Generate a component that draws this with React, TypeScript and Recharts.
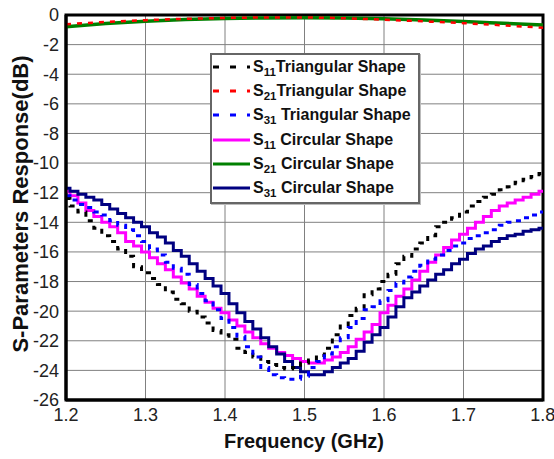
import React from 'react'
import {
  LineChart,
  Line,
  XAxis,
  YAxis,
  CartesianGrid,
  ReferenceArea,
  Legend,
} from 'recharts'

const FONT = '"Liberation Sans", Arial, Helvetica, sans-serif'

// frequency grid of the simulated curves (GHz)
const freqs = [
  1.2, 1.21, 1.22, 1.23, 1.24, 1.25, 1.26, 1.27, 1.28, 1.29,
  1.3, 1.31, 1.32, 1.33, 1.34, 1.35, 1.36, 1.37, 1.38, 1.39,
  1.4, 1.41, 1.42, 1.43, 1.44, 1.45, 1.46, 1.47, 1.48, 1.49,
  1.5, 1.51, 1.52, 1.53, 1.54, 1.55, 1.56, 1.57, 1.58, 1.59,
  1.6, 1.61, 1.62, 1.63, 1.64, 1.65, 1.66, 1.67, 1.68, 1.69,
  1.7, 1.71, 1.72, 1.73, 1.74, 1.75, 1.76, 1.77, 1.78, 1.79, 1.8,
]

const s11Tri = [
  -12.4, -12.9, -13.3, -13.9, -14.4, -14.9, -15.3, -15.8, -16.3, -17.0,
  -17.4, -17.8, -18.2, -18.7, -19.2, -19.5, -20.0, -20.4, -20.8, -21.3,
  -21.6, -21.9, -22.5, -22.8, -23.1, -23.4, -23.6, -23.8, -23.9, -23.8,
  -23.5, -23.3, -23.0, -22.5, -21.6, -21.0, -20.3, -19.8, -18.9, -18.5,
  -18.0, -17.5, -16.8, -16.3, -15.8, -15.4, -14.9, -14.3, -14.0, -13.7,
  -13.3, -12.9, -12.6, -12.3, -12.1, -11.8, -11.6, -11.3, -11.1, -10.9, -10.7,
]

const s31Tri = [
  -12.2, -12.5, -12.8, -13.0, -13.3, -13.5, -13.9, -14.2, -14.5, -14.9,
  -15.3, -15.8, -16.2, -16.7, -17.1, -17.5, -18.2, -18.8, -19.3, -19.9,
  -20.5, -21.1, -21.7, -22.4, -23.1, -23.8, -24.3, -24.5, -24.6, -24.6,
  -24.4, -23.8, -23.4, -22.9, -22.4, -21.8, -21.1, -20.5, -19.9, -19.7,
  -19.3, -18.6, -18.1, -17.7, -17.3, -16.9, -16.5, -16.2, -15.9, -15.6,
  -15.4, -15.1, -14.9, -14.7, -14.5, -14.2, -14.0, -13.9, -13.7, -13.5, -13.3,
]

const s11Circ = [
  -11.9, -12.2, -12.7, -13.2, -13.6, -14.0, -14.3, -14.7, -15.3, -15.6,
  -16.0, -16.4, -16.8, -17.2, -17.7, -18.1, -18.5, -19.0, -19.4, -19.8,
  -20.1, -20.6, -21.0, -21.4, -21.8, -22.2, -22.5, -22.8, -23.0, -23.2,
  -23.4, -23.5, -23.5, -23.3, -23.1, -22.8, -22.4, -21.9, -21.4, -20.9,
  -20.1, -19.6, -19.0, -18.5, -17.9, -17.3, -16.7, -16.2, -15.7, -15.2,
  -14.8, -14.4, -14.0, -13.6, -13.2, -12.9, -12.7, -12.5, -12.3, -12.1, -11.9,
]

const s31Circ = [
  -11.7, -11.9, -12.1, -12.3, -12.5, -12.8, -13.1, -13.4, -13.7, -14.0,
  -14.3, -14.7, -15.0, -15.4, -15.9, -16.3, -16.8, -17.3, -17.8, -18.3,
  -18.8, -19.5, -20.1, -20.7, -21.2, -21.8, -22.4, -22.9, -23.4, -23.8,
  -24.1, -24.3, -24.3, -24.1, -23.8, -23.5, -23.2, -22.7, -22.1, -21.6,
  -21.1, -20.4, -19.7, -19.1, -18.7, -18.3, -17.9, -17.5, -17.2, -16.8,
  -16.5, -16.1, -15.8, -15.6, -15.3, -15.1, -14.9, -14.8, -14.6, -14.5, -14.4,
]

// transmission curves are smooth, read every 0.05 GHz
const freqsCoarse = [1.2, 1.25, 1.3, 1.35, 1.4, 1.45, 1.5, 1.55, 1.6, 1.65, 1.7, 1.75, 1.8]
const s21Tri = [-0.62, -0.47, -0.35, -0.26, -0.2, -0.17, -0.17, -0.22, -0.32, -0.43, -0.55, -0.7, -0.86]
const s21Circ = [-0.79, -0.58, -0.42, -0.31, -0.24, -0.2, -0.18, -0.2, -0.26, -0.34, -0.44, -0.56, -0.68]

const xTicks = [1.2, 1.3, 1.4, 1.5, 1.6, 1.7, 1.8]
const yTicks = [0, -2, -4, -6, -8, -10, -12, -14, -16, -18, -20, -22, -24, -26]

const toPoints = (xs: number[], ys: number[]) => xs.map((x, i) => ({ x, y: ys[i] }))

const legendItems = [
  { sub: '11', text: 'Triangular Shape', color: '#000000', dashed: true },
  { sub: '21', text: 'Triangular Shape', color: '#ff0000', dashed: true },
  { sub: '31', text: ' Triangular Shape', color: '#0000ff', dashed: true },
  { sub: '11', text: ' Circular Shape', color: '#ff00ff', dashed: false },
  { sub: '21', text: ' Circular Shape', color: '#008000', dashed: false },
  { sub: '31', text: ' Circular Shape', color: '#000080', dashed: false },
]

function LegendBox() {
  return (
    <div
      style={{
        width: 206,
        height: 147,
        border: '2px solid #666',
        background: '#fff',
        boxShadow: '1px 1px 0 #bbb',
        boxSizing: 'content-box',
      }}
    >
      {legendItems.map((item, i) => (
        <div key={i} style={{ display: 'flex', alignItems: 'center', height: 24.2 }}>
          <svg width={40} height={10} style={{ flexShrink: 0 }}>
            <line
              x1={1}
              y1={5}
              x2={38}
              y2={5}
              stroke={item.color}
              strokeWidth={3}
              strokeDasharray={item.dashed ? '6 11' : undefined}
            />
          </svg>
          <span
            style={{
              fontFamily: FONT,
              fontWeight: 'bold',
              fontSize: 16,
              color: '#111',
              whiteSpace: 'pre',
              marginLeft: 1,
            }}
          >
            S
            <span style={{ fontSize: 11.5, position: 'relative', top: 4 }}>{item.sub}</span>
            {item.text}
          </span>
        </div>
      ))}
    </div>
  )
}

export default function App() {
  return (
    <div style={{ position: 'absolute', left: 0, top: 0, width: 554, height: 459, background: '#fff' }}>
      <LineChart width={554} height={459} margin={{ top: 15, right: 11, bottom: 0, left: 0 }}>
        <CartesianGrid stroke="#808080" strokeWidth={1} />
        <XAxis
          type="number"
          dataKey="x"
          domain={[1.2, 1.8]}
          ticks={xTicks}
          tickFormatter={(v) => Number(v).toFixed(1)}
          height={59}
          tickLine={false}
          tickSize={0}
          tickMargin={8}
          axisLine={{ stroke: '#000', strokeWidth: 3 }}
          tick={{ fill: '#222', fontSize: 18, fontFamily: FONT }}
          allowDataOverflow
        />
        <YAxis
          type="number"
          domain={[-26, 0]}
          ticks={yTicks}
          width={66}
          tickLine={false}
          tickSize={0}
          tickMargin={7}
          axisLine={{ stroke: '#000', strokeWidth: 3 }}
          tick={{ fill: '#222', fontSize: 18, fontFamily: FONT }}
          allowDataOverflow
        />
        <Legend
          layout="horizontal"
          verticalAlign="middle"
          align="center"
          wrapperStyle={{ position: 'absolute', left: 210, top: 53, width: 'auto' }}
          content={() => <LegendBox />}
        />
        <Line data={toPoints(freqs, s11Circ)} dataKey="y" type="step" stroke="#ff00ff" strokeWidth={3} dot={false} isAnimationActive={false} />
        <Line data={toPoints(freqs, s31Circ)} dataKey="y" type="step" stroke="#000080" strokeWidth={3} dot={false} isAnimationActive={false} />
        <Line data={toPoints(freqsCoarse, s21Circ)} dataKey="y" type="monotone" stroke="#008000" strokeWidth={3.5} dot={false} isAnimationActive={false} />
        <Line data={toPoints(freqsCoarse, s21Tri)} dataKey="y" type="monotone" stroke="#ff0000" strokeWidth={2.5} strokeDasharray="5 6" dot={false} isAnimationActive={false} />
        <Line data={toPoints(freqs, s11Tri)} dataKey="y" type="step" stroke="#000000" strokeWidth={3} strokeDasharray="5 6" dot={false} isAnimationActive={false} />
        <Line data={toPoints(freqs, s31Tri)} dataKey="y" type="step" stroke="#0000ff" strokeWidth={3} strokeDasharray="5 6" dot={false} isAnimationActive={false} />
        <ReferenceArea x1={1.2} x2={1.8} y1={-26} y2={0} fill="none" stroke="#000" strokeWidth={3} ifOverflow="visible" />
      </LineChart>
      <div
        style={{
          position: 'absolute',
          left: 21,
          top: 204,
          transform: 'translate(-50%, -50%) rotate(-90deg)',
          fontFamily: FONT,
          fontWeight: 'bold',
          fontSize: 22,
          color: '#111',
          whiteSpace: 'nowrap',
        }}
      >
        S-Parameters Response(dB)
      </div>
      <div
        style={{
          position: 'absolute',
          left: 304,
          top: 441,
          transform: 'translate(-50%, -50%)',
          fontFamily: FONT,
          fontWeight: 'bold',
          fontSize: 20,
          color: '#111',
          whiteSpace: 'nowrap',
        }}
      >
        Frequency (GHz)
      </div>
    </div>
  )
}
